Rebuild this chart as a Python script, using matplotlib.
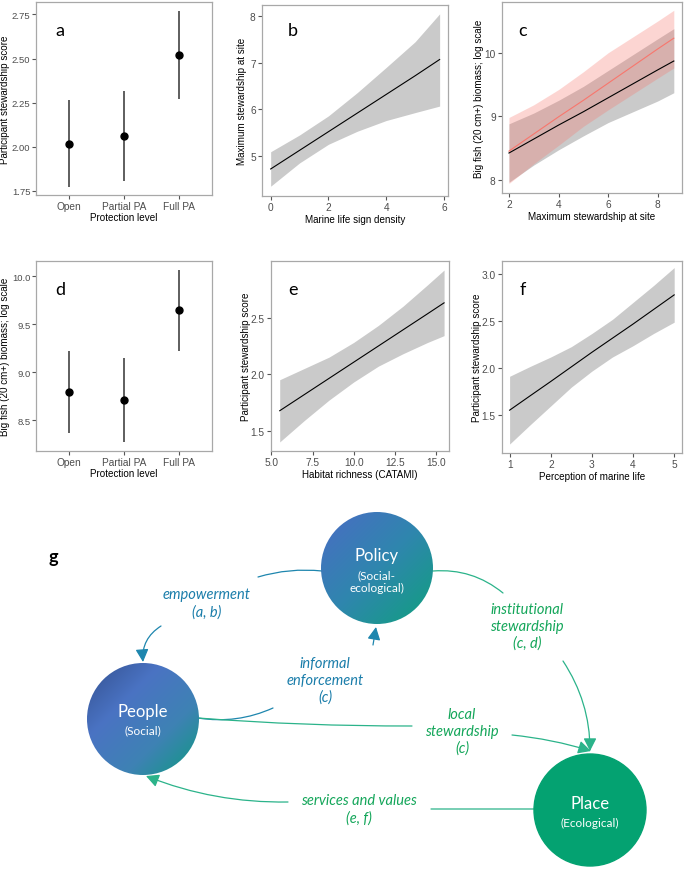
import numpy as np
import matplotlib.pyplot as plt
from matplotlib.patches import Circle, FancyArrowPatch
from matplotlib.colors import LinearSegmentedColormap

plt.rcParams['font.family'] = ['Liberation Sans', 'DejaVu Sans']

# --- panels a, d: by protection level ---
levels = ['Open', 'Partial PA', 'Full PA']
stew_mean = [2.015, 2.06, 2.52]
stew_lo = [1.77, 1.805, 2.27]
stew_hi = [2.265, 2.315, 2.77]
fish_mean = [8.80, 8.71, 9.65]
fish_lo = [8.37, 8.27, 9.22]
fish_hi = [9.22, 9.15, 10.07]

# --- panel b ---
b_x = [0, 1, 2, 3, 4, 5, 5.85]
b_fit = [4.72, 5.12, 5.52, 5.92, 6.32, 6.72, 7.07]
b_lo = [4.35, 4.85, 5.25, 5.53, 5.76, 5.93, 6.07]
b_hi = [5.09, 5.45, 5.86, 6.36, 6.90, 7.45, 8.05]

# --- panel c (grey = all sites, red = second model) ---
c_x = [2, 3, 4, 5, 6, 7, 8, 8.65]
c_fit = [8.42, 8.64, 8.86, 9.07, 9.29, 9.51, 9.73, 9.87]
c_lo = [7.96, 8.23, 8.47, 8.69, 8.90, 9.07, 9.24, 9.37]
c_hi = [8.88, 9.05, 9.25, 9.47, 9.72, 9.97, 10.22, 10.38]
c2_fit = [8.45, 8.72, 8.99, 9.25, 9.52, 9.79, 10.06, 10.23]
c2_lo = [7.94, 8.25, 8.54, 8.84, 9.10, 9.35, 9.60, 9.76]
c2_hi = [8.98, 9.18, 9.42, 9.70, 10.00, 10.25, 10.50, 10.67]

# --- panel e ---
e_x = [5.5, 7, 8.5, 10, 11.5, 13, 14.5, 15.5]
e_fit = [1.676, 1.819, 1.962, 2.105, 2.248, 2.391, 2.534, 2.63]
e_lo = [1.40, 1.59, 1.77, 1.93, 2.07, 2.18, 2.28, 2.34]
e_hi = [1.95, 2.05, 2.15, 2.28, 2.43, 2.60, 2.79, 2.92]

# --- panel f ---
f_x = [1, 1.5, 2, 2.5, 3, 3.5, 4, 4.5, 5]
f_fit = [1.555, 1.708, 1.86, 2.015, 2.17, 2.32, 2.47, 2.625, 2.78]
f_lo = [1.195, 1.40, 1.60, 1.80, 1.97, 2.12, 2.24, 2.37, 2.49]
f_hi = [1.915, 2.02, 2.12, 2.23, 2.37, 2.52, 2.70, 2.88, 3.07]

band_grey = '#CACACA'
pink = '#F8766D'
tick_col = '#4D4D4D'

fig = plt.figure(figsize=(6.85, 8.7), dpi=100)

# diagram (g) drawn in pixel coordinates over the whole figure
dg = fig.add_axes([0, 0, 1, 1])
dg.set_axis_off()


def px_axes(left, top, right, bottom):
    return fig.add_axes([left / 685, 1 - bottom / 870, (right - left) / 685, (bottom - top) / 870])


def style(ax, ylab_x):
    for s in ax.spines.values():
        s.set_color('#A8A8A8')
        s.set_linewidth(0.9)
    ax.tick_params(length=3, width=0.8, color='#555555', labelsize=7.3,
                   labelcolor=tick_col, pad=1.5)
    ax.yaxis.set_label_coords(ylab_x, 0.5)


def label(txt, x, y):
    fig.text(x / 685, 1 - y / 870, txt, fontsize=13, family='Lato',
             ha='center', va='center')


def trend(ax, x, fit, lo, hi):
    ax.fill_between(x, lo, hi, color=band_grey, lw=0)
    ax.plot(x, fit, color='black', lw=0.8)


def level_plot(ax, mean, lo, hi):
    xs = np.arange(len(levels))
    ax.vlines(xs, lo, hi, color='#333333', lw=1.1)
    ax.plot(xs, mean, 'o', color='black', ms=5)
    ax.set_xticks(xs)
    ax.set_xticklabels(levels)
    ax.set_xlim(-0.6, 2.6)
    ax.set_xlabel('Protection level', fontsize=7.1, labelpad=0.5)


# a
ax = px_axes(36, 3, 212, 196)
level_plot(ax, stew_mean, stew_lo, stew_hi)
ax.set_ylim(1.727, 2.82)
ax.set_yticks([1.75, 2.0, 2.25, 2.5, 2.75])
ax.set_yticklabels(['1.75', '2.00', '2.25', '2.50', '2.75'])
ax.set_ylabel('Participant stewardship score', fontsize=7.1)
style(ax, -0.145)
ax.tick_params(axis='y', labelsize=6.8, pad=1)
label('a', 60, 31)

# b
ax = px_axes(262, 6, 448, 197)
trend(ax, b_x, b_fit, b_lo, b_hi)
ax.set_xlim(-0.3, 6.14)
ax.set_ylim(4.14, 8.24)
ax.set_xticks([0, 2, 4, 6])
ax.set_yticks([5, 6, 7, 8])
ax.set_xlabel('Marine life sign density', fontsize=7.1, labelpad=1)
ax.set_ylabel('Maximum stewardship at site', fontsize=7.1)
style(ax, -0.078)
label('b', 293, 31)

# c
ax = px_axes(502, 3, 682, 194)
trend(ax, c_x, c_fit, c_lo, c_hi)
ax.fill_between(c_x, c2_lo, c2_hi, color=pink, alpha=0.3, lw=0)
ax.plot(c_x, c2_fit, color=pink, lw=0.8)
ax.set_xlim(1.72, 8.98)
ax.set_ylim(7.79, 10.8)
ax.set_xticks([2, 4, 6, 8])
ax.set_yticks([8, 9, 10])
ax.set_xlabel('Maximum stewardship at site', fontsize=7.1, labelpad=1)
ax.set_ylabel('Big fish (20 cm+) biomass; log scale', fontsize=7.1)
style(ax, -0.10)
label('c', 523, 31)

# d
ax = px_axes(36, 262, 212, 452)
level_plot(ax, fish_mean, fish_lo, fish_hi)
ax.set_ylim(8.18, 10.16)
ax.set_yticks([8.5, 9.0, 9.5, 10.0])
ax.set_yticklabels(['8.5', '9.0', '9.5', '10.0'])
ax.set_ylabel('Big fish (20 cm+) biomass; log scale', fontsize=7.1)
style(ax, -0.145)
ax.tick_params(axis='y', labelsize=6.8, pad=1)
label('d', 60, 290)

# e
ax = px_axes(271, 262, 449, 452)
trend(ax, e_x, e_fit, e_lo, e_hi)
ax.set_xlim(4.97, 15.8)
ax.set_ylim(1.32, 3.0)
ax.set_xticks([5, 7.5, 10, 12.5, 15])
ax.set_xticklabels(['5.0', '7.5', '10.0', '12.5', '15.0'])
ax.set_yticks([1.5, 2.0, 2.5])
ax.set_yticklabels(['1.5', '2.0', '2.5'])
ax.set_xlabel('Habitat richness (CATAMI)', fontsize=7.1, labelpad=1)
ax.set_ylabel('Participant stewardship score', fontsize=7.1)
style(ax, -0.11)
label('e', 293, 290)

# f
ax = px_axes(502, 262, 682, 454)
trend(ax, f_x, f_fit, f_lo, f_hi)
ax.set_xlim(0.815, 5.19)
ax.set_ylim(1.10, 3.14)
ax.set_xticks([1, 2, 3, 4, 5])
ax.set_yticks([1.5, 2.0, 2.5, 3.0])
ax.set_yticklabels(['1.5', '2.0', '2.5', '3.0'])
ax.set_xlabel('Perception of marine life', fontsize=7.1, labelpad=1)
ax.set_ylabel('Participant stewardship score', fontsize=7.1)
style(ax, -0.11)
label('f', 523, 290)

# --- g: conceptual diagram ---
blue_txt = '#1A7DAA'
green_txt = '#14A65A'
blue_ln = '#1E86AE'
green_ln = '#2BB38A'


def grad_circle(cx, cy, r, colors):
    yy, xx = np.mgrid[0:1:200j, 0:1:200j]
    t = (xx + yy) / 2
    cmap = LinearSegmentedColormap.from_list('g', colors)
    im = dg.imshow(t, cmap=cmap, extent=(cx - r, cx + r, cy + r, cy - r),
                   origin='upper', interpolation='bilinear', zorder=3)
    circ = Circle((cx, cy), r, facecolor='none', edgecolor='none')
    dg.add_patch(circ)
    im.set_clip_path(circ)


grad_circle(143, 720, 56, ['#33508F', '#4A73C3', '#3E82B4', '#0E9A80'])
grad_circle(377, 569, 56, ['#4A6CC4', '#2F86AE', '#10A07E'])
dg.add_patch(Circle((590, 811), 56, color='#04A271', zorder=3))

ctext = dict(color='white', family='Lato', ha='center', va='center', zorder=4)
dg.text(143, 712, 'People', fontsize=12, **ctext)
dg.text(143, 731, '(Social)', fontsize=8.5, **ctext)
dg.text(377, 556, 'Policy', fontsize=12, **ctext)
dg.text(377, 582, '(Social-\necological)', fontsize=8.5, linespacing=1.2, **ctext)
dg.text(590, 804, 'Place', fontsize=12, **ctext)
dg.text(590, 823, '(Ecological)', fontsize=8.5, **ctext)


def link(p0, p1, col, rad=0.0, head=False):
    style_ = '-|>,head_length=0.55,head_width=0.28' if head else '-'
    a = FancyArrowPatch(p0, p1, arrowstyle=style_, mutation_scale=14,
                        connectionstyle=f'arc3,rad={rad}', color=col, lw=0.9,
                        shrinkA=0, shrinkB=0, zorder=2)
    dg.add_patch(a)


# empowerment: Policy -> People
link((322, 572), (258, 578), blue_ln, rad=0.1)
link((161, 627), (143, 663), blue_ln, rad=0.3, head=True)
# informal enforcement: People -> Policy
link((198, 719), (273, 709), blue_ln, rad=0.15)
link((373, 646), (376, 628), blue_ln, head=True)
# local stewardship: People -> Place
link((198, 719), (412, 727), green_ln, rad=0.02)
link((512, 736), (591, 752), green_ln, rad=-0.05, head=True)
# institutional stewardship: Policy -> Place
link((433, 572), (503, 594), green_ln, rad=-0.2)
link((563, 662), (590, 752), green_ln, rad=-0.15, head=True)
# services and values: Place -> People
link((534, 810), (431, 810), green_ln)
link((288, 803), (146, 777), green_ln, rad=-0.1, head=True)

kw = dict(fontsize=10.5, family='Lato', style='italic', ha='center', va='center',
          linespacing=1.25, zorder=4)
dg.text(207, 604, 'empowerment\n(a, b)', color=blue_txt, **kw)
dg.text(325, 681, 'informal\nenforcement\n(c)', color=blue_txt, **kw)
dg.text(527, 627, 'institutional\nstewardship\n(c, d)', color=green_txt, **kw)
dg.text(462, 732, 'local\nstewardship\n(c)', color=green_txt, **kw)
dg.text(359, 810, 'services and values\n(e, f)', color=green_txt, **kw)
dg.text(53, 558, 'g', fontsize=13, family='Lato', weight='bold', ha='center', va='center')

dg.set_xlim(0, 685)
dg.set_ylim(870, 0)
dg.set_aspect('auto')

fig.savefig('out.png', dpi=100)
